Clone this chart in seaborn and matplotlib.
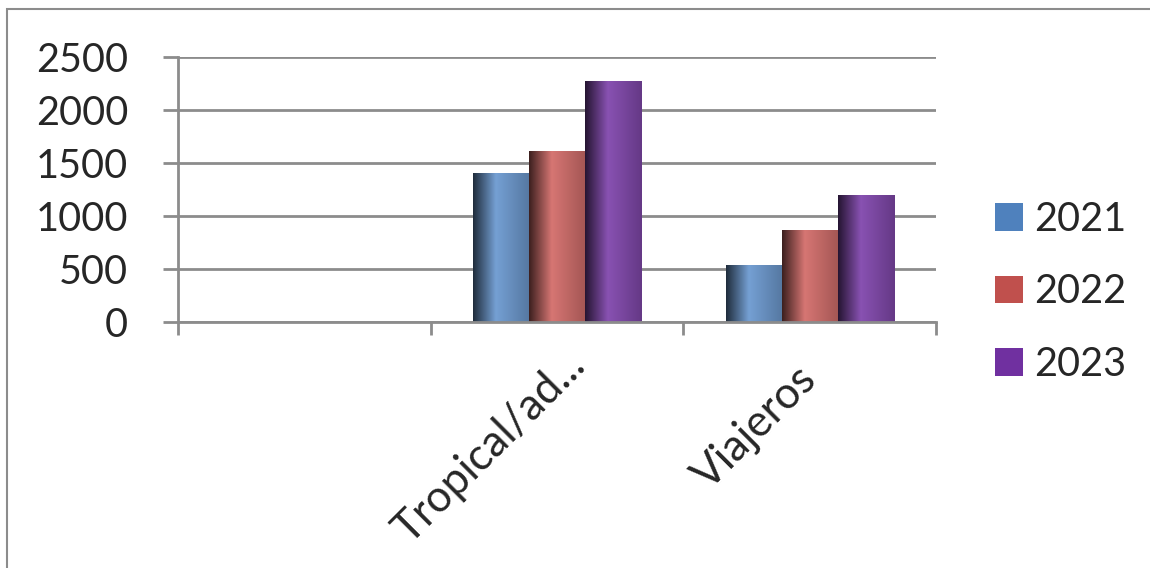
import numpy as np
import pandas as pd
import matplotlib
matplotlib.use("Agg")
import matplotlib.pyplot as plt
import matplotlib.colors as mcolors
import matplotlib.transforms as mtransforms
from matplotlib.patches import Patch, Rectangle
import seaborn as sns

# data
categories = ["", "Tropical/ad...", "Viajeros"]
years = ["2021", "2022", "2023"]
values_2021 = [0, 1400, 530]
values_2022 = [0, 1610, 860]
values_2023 = [0, 2270, 1195]
colors = ["#4F81BD", "#C0504D", "#7030A0"]

df = pd.DataFrame({
    "cat": categories * 3,
    "year": [y for y in years for _ in categories],
    "val": values_2021 + values_2022 + values_2023,
})

sns.set_style("white")
plt.rcParams["font.family"] = ["Lato", "DejaVu Sans"]

fig = plt.figure(figsize=(11.5, 5.68), dpi=100)
ax = fig.add_axes([0.1548, 0.4331, 0.8139 - 0.1548, 0.8996 - 0.4331])

sns.barplot(data=df, x="cat", y="val", hue="year", order=categories,
            hue_order=years, palette=colors, width=0.665, linewidth=0,
            errorbar=None, legend=False, ax=ax)

# fake the excel cylinder-ish shading with a horizontal gradient
def shade(c, t):
    c = np.array(mcolors.to_rgb(c))
    dark = c * 0.35
    light = np.clip(c * 1.15 + 0.04, 0, 1)
    mid = c * 0.92
    if t < 0.4:
        f = t / 0.4
        return dark * (1 - f) + light * f
    f = (t - 0.4) / 0.6
    return light * (1 - f) + mid * f

for p in list(ax.patches):
    h = p.get_height()
    if h <= 0:
        continue
    x, w = p.get_x(), p.get_width()
    fc = p.get_facecolor()
    grad = np.array([[shade(fc[:3], t) for t in np.linspace(0, 1, 60)]])
    ax.imshow(grad, extent=[x, x + w, 0, h], aspect="auto",
              zorder=p.get_zorder() + 0.1, interpolation="bilinear")
    p.set_visible(False)

ax.set_xlim(-0.5, 2.5)
ax.set_ylim(0, 2500)
ax.set_yticks([0, 500, 1000, 1500, 2000, 2500])
ax.set_axisbelow(True)
ax.yaxis.grid(True, color="#8c8c8c", linewidth=2)
ax.xaxis.grid(False)

for s in ["top", "right"]:
    ax.spines[s].set_visible(False)
for s in ["left", "bottom"]:
    ax.spines[s].set_color("#8c8c8c")
    ax.spines[s].set_linewidth(2)

ax.set_xlabel("")
ax.set_ylabel("")
ax.tick_params(axis="y", direction="out", length=11, width=2, color="#8c8c8c",
               pad=25, labelsize=28.5, left=True)
ax.set_xticks([-0.5, 0.5, 1.5, 2.5], minor=True)
ax.tick_params(axis="x", which="minor", direction="out", length=9, width=2,
               color="#8c8c8c", bottom=True)
ax.tick_params(axis="x", which="major", length=0, labelsize=31.5, pad=22)
# per-label nudges (pixels right, pixels down) to match excel placement
nudges = {"Tropical/ad...": (22, 6), "Viajeros": (0, 20)}
for lab in ax.get_xticklabels():
    lab.set_rotation(45)
    lab.set_ha("right")
    lab.set_va("center")
    lab.set_rotation_mode("anchor")
    lab.set_position((lab.get_position()[0] + 0.13, 0))
    dx, dy = nudges.get(lab.get_text(), (0, 0))
    lab.set_transform(lab.get_transform() + mtransforms.ScaledTranslation(
        dx / 100, -dy / 100, fig.dpi_scale_trans))

handles = [Patch(facecolor=c, edgecolor="none") for c in colors]
fig.legend(handles, years, loc="center left", bbox_to_anchor=(0.848, 0.486),
           frameon=False, fontsize=28.5, handlelength=0.7, handleheight=0.7,
           handletextpad=0.3, labelspacing=0.9, borderpad=0)

# outer chart border
fig.patches.append(Rectangle((7 / 1150, -0.1), 1.2, 1 - 9 / 568 + 0.1,
                             transform=fig.transFigure, fill=False,
                             edgecolor="#8c8c8c", linewidth=1.5))

fig.savefig("out.png", dpi=100)
